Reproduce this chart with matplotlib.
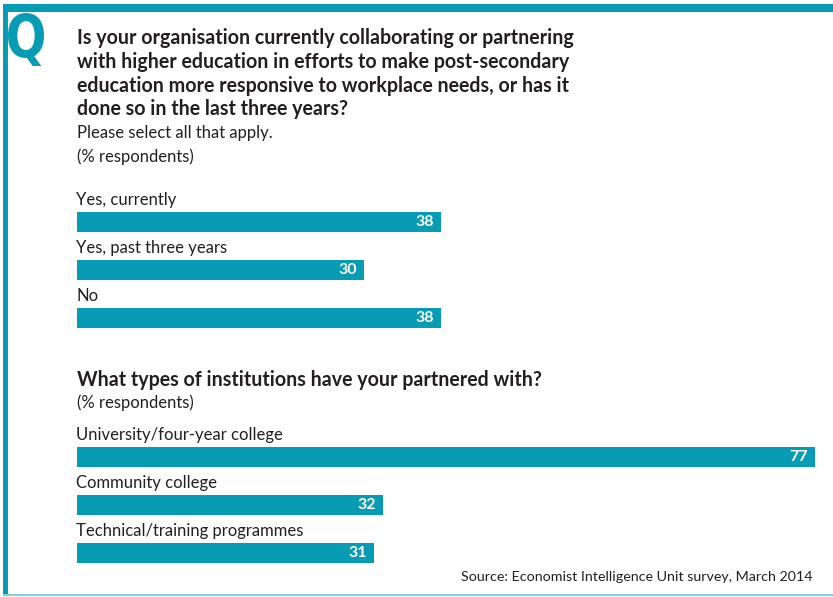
import matplotlib
matplotlib.use("Agg")

import matplotlib.pyplot as plt
from matplotlib.patches import Rectangle, PathPatch
from matplotlib.textpath import TextPath
from matplotlib.font_manager import FontProperties
from matplotlib.transforms import Affine2D

# Question 1
q1_labels = ["Yes, currently", "Yes, past three years", "No"]
q1_values = [38, 30, 38]

# Question 2
q2_labels = ["University/four-year college", "Community college",
             "Technical/training programmes"]
q2_values = [77, 32, 31]

TEAL = "#079bb4"
LIGHT_TEAL = "#7fd0dc"
TEXT = "#231f20"
FONT = ["Lato", "DejaVu Sans"]

plt.rcParams["font.family"] = FONT

W, H = 833, 597
fig = plt.figure(figsize=(W / 100, H / 100), dpi=100)

# background axes in pixel coordinates for frame and text
bg = fig.add_axes([0, 0, 1, 1])
bg.set_xlim(0, W)
bg.set_ylim(H, 0)
bg.axis("off")

bg.add_patch(Rectangle((3, 4), W - 3, 8, color=TEAL, lw=0))
bg.add_patch(Rectangle((3, 4), 5, H - 6, color=TEAL, lw=0))
bg.add_patch(Rectangle((3, 594), W - 3, 2, color=LIGHT_TEAL, lw=0))

# condensed "Q" glyph squeezed into its box
qpath = TextPath((0, 0), "Q", size=100,
                 prop=FontProperties(family="DejaVu Sans", weight="bold"))
ext = qpath.get_extents()
bx0, by0, bx1, by1 = 8, 13, 44, 66
sx = (bx1 - bx0) / ext.width
sy = (by1 - by0) / ext.height
tr = (Affine2D().translate(-ext.x0, -ext.y1).scale(sx, -sy).translate(bx0, by0))
bg.add_patch(PathPatch(tr.transform_path(qpath), color=TEAL, lw=0))

title1 = ["Is your organisation currently collaborating or partnering",
          "with higher education in efforts to make post-secondary",
          "education more responsive to workplace needs, or has it",
          "done so in the last three years?"]
for i, line in enumerate(title1):
    bg.text(77, 38 + i * 23.8, line, fontsize=14.1, fontweight="bold",
            color=TEXT, va="center")
bg.text(77, 133, "Please select all that apply.", fontsize=12, color=TEXT, va="center")
bg.text(77, 157, "(% respondents)", fontsize=12, color=TEXT, va="center")

bg.text(77, 380, "What types of institutions have your partnered with?",
        fontsize=14.1, fontweight="bold", color=TEXT, va="center")
bg.text(77, 403, "(% respondents)", fontsize=12, color=TEXT, va="center")

bg.text(813, 577, "Source: Economist Intelligence Unit survey, March 2014",
        fontsize=10.3, color=TEXT, ha="right", va="center")


def draw_bars(top_px, labels, values):
    # each row is 48 px tall, bar is 20 px
    x0, x1 = 76.5, 815
    ax = fig.add_axes([x0 / W, 1 - (top_px + 144) / H, (x1 - x0) / W, 144 / H])
    ax.barh(range(len(values)), values, height=20 / 48, color=TEAL)
    ax.set_xlim(0, 77)
    ax.set_ylim(2.5, -0.5)
    ax.axis("off")
    for i, (lab, v) in enumerate(zip(labels, values)):
        ax.text(0, i - 0.46, lab, fontsize=12, color=TEXT, va="center", ha="left")
        ax.annotate(str(v), (v, i), xytext=(-5, 0), textcoords="offset points",
                    ha="right", va="center", color="white", fontsize=11.5,
                    fontweight="bold")
    return ax


draw_bars(198, q1_labels, q1_values)
draw_bars(433, q2_labels, q2_values)

fig.savefig("out.png", dpi=100)
plt.close(fig)
